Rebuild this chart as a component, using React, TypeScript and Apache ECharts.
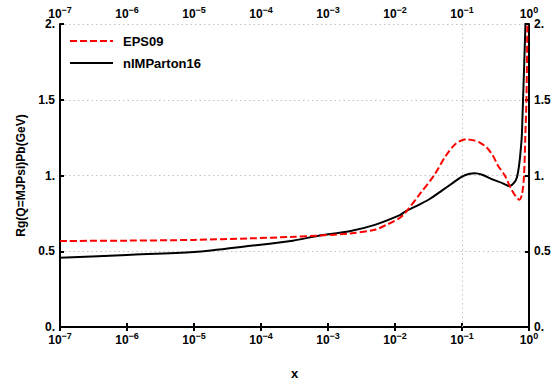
import React, { useEffect, useRef } from "react";
import * as echarts from "echarts";

const epsX = [1e-7, 1e-6, 1e-5, 7e-5, 3e-4, 7.5e-4, 2.1e-3, 5e-3, 7.5e-3, 0.0118, 0.014, 0.0234, 0.0379, 0.0573, 0.0807, 0.118, 0.15, 0.184, 0.234, 0.29, 0.341, 0.435, 0.546, 0.64, 0.72, 0.79, 0.843, 0.88, 0.916, 0.946, 0.97];
const epsY = [0.568, 0.57, 0.575, 0.585, 0.595, 0.604, 0.617, 0.642, 0.675, 0.72, 0.75, 0.877, 0.998, 1.13, 1.21, 1.239, 1.232, 1.217, 1.185, 1.13, 1.068, 1.0, 0.909, 0.86, 0.84, 0.88, 1.0, 1.25, 1.5, 2.0, 2.5];

const nimX = [1e-7, 1e-6, 1e-5, 7e-5, 3e-4, 7.5e-4, 2.1e-3, 5e-3, 0.0118, 0.014, 0.0234, 0.033, 0.05, 0.075, 0.1, 0.13, 0.155, 0.2, 0.29, 0.4, 0.515, 0.66, 0.77, 0.8, 0.815, 0.885, 0.95];
const nimY = [0.457, 0.476, 0.495, 0.536, 0.57, 0.604, 0.632, 0.674, 0.738, 0.76, 0.81, 0.845, 0.9, 0.955, 0.993, 1.012, 1.015, 1.005, 0.973, 0.95, 0.93, 0.987, 1.22, 1.39, 1.5, 2.0, 2.6];

const seriesNames = ["EPS09", "nIMParton16"];
const seriesColors = ["#ff0000", "#000000"];
const gridX = [1e-5, 1e-3, 1e-1];

const FONT = "Liberation Sans";

function fmtX(v: number) {
  const e = Math.round(Math.log10(v));
  return "{b|10}{s|" + (e === 0 ? "0" : "\u2212" + Math.abs(e)) + "}";
}
function fmtY(v: number) {
  return Number.isInteger(v) ? v + "." : String(v);
}

const rich = {
  b: { fontSize: 12, fontWeight: "bold", fontFamily: FONT, color: "#000", verticalAlign: "bottom" },
  s: { fontSize: 9, fontWeight: "bold", fontFamily: FONT, color: "#000", verticalAlign: "bottom", padding: [0, 0, 6, 0] },
};

export default function App() {
  const ref = useRef<HTMLDivElement>(null);
  useEffect(() => {
    if (!ref.current) return;
    const chart = echarts.init(ref.current, null, { renderer: "svg" });
    const axisLine = { show: true, lineStyle: { color: "#000", width: 2 } };
    const tick = { show: true, inside: true, length: 4, lineStyle: { color: "#000", width: 2 } };
    const gridStyle = { type: [1.5, 3], color: "#c4c4c4", width: 1 };
    const xCommon = {
      type: "log",
      logBase: 10,
      min: 1e-7,
      max: 1,
      axisLine,
      axisTick: tick,
      minorTick: { show: false },
      splitLine: { show: false },
    };
    const yCommon = {
      type: "value",
      min: 0,
      max: 2,
      interval: 0.5,
      axisLine,
      axisTick: tick,
    };
    const legendGraphics: any[] = [];
    seriesNames.forEach((n, i) => {
      const y = 41 + i * 22;
      legendGraphics.push({
        type: "line",
        shape: { x1: 70, y1: y, x2: 113, y2: y },
        style: { stroke: seriesColors[i], lineWidth: 2, lineDash: i === 0 ? [7, 3] : null },
        z: 10,
      });
      legendGraphics.push({
        type: "text",
        x: 123,
        y,
        style: { text: n, fontSize: 13, fontWeight: "bold", fontFamily: FONT, fill: "#000", verticalAlign: "middle", align: "left" },
        z: 10,
      });
    });
    chart.setOption({
      animation: false,
      textStyle: { fontFamily: FONT },
      grid: { left: 60, right: 31, top: 24, bottom: 48, containLabel: false },
      graphic: legendGraphics,
      xAxis: [
        {
          ...xCommon,
          position: "bottom",
          name: "x",
          nameLocation: "middle",
          nameGap: 40,
          nameTextStyle: { fontSize: 13, fontWeight: "bold", color: "#000", fontFamily: FONT },
          axisLabel: { formatter: fmtX, rich, margin: 4 },
        },
        {
          ...xCommon,
          position: "top",
          axisLabel: { formatter: fmtX, rich, margin: 4 },
        },
      ],
      yAxis: [
        {
          ...yCommon,
          position: "left",
          name: "Rg(Q=MJPsi)Pb(GeV)",
          nameLocation: "middle",
          nameGap: 26,
          nameTextStyle: { fontSize: 12, fontWeight: "bold", color: "#000", fontFamily: FONT },
          axisLabel: { formatter: fmtY, fontSize: 12, fontWeight: "bold", color: "#000", margin: 5, fontFamily: FONT },
          splitLine: { show: true, lineStyle: gridStyle },
        },
        {
          ...yCommon,
          position: "right",
          axisLabel: { formatter: fmtY, fontSize: 12, fontWeight: "bold", color: "#000", margin: 5, fontFamily: FONT },
          splitLine: { show: false },
        },
      ],
      series: [
        {
          name: seriesNames[1],
          type: "line",
          data: nimX.map((x, i) => [x, nimY[i]]),
          symbol: "none",
          showSymbol: false,
          smooth: 0.3,
          clip: true,
          lineStyle: { color: seriesColors[1], width: 2 },
          itemStyle: { color: seriesColors[1] },
          z: 2,
          markLine: {
            silent: true,
            symbol: "none",
            label: { show: false },
            lineStyle: gridStyle,
            z: 1,
            data: gridX.map((v) => ({ xAxis: v })),
          },
        },
        {
          name: seriesNames[0],
          type: "line",
          data: epsX.map((x, i) => [x, epsY[i]]),
          symbol: "none",
          showSymbol: false,
          smooth: 0.3,
          clip: true,
          lineStyle: { color: seriesColors[0], width: 2, type: [7, 3] },
          itemStyle: { color: seriesColors[0] },
          z: 3,
        },
      ],
    });
    return () => chart.dispose();
  }, []);
  return <div ref={ref} style={{ position: "absolute", left: 0, top: 0, width: 560, height: 385 }} />;
}
